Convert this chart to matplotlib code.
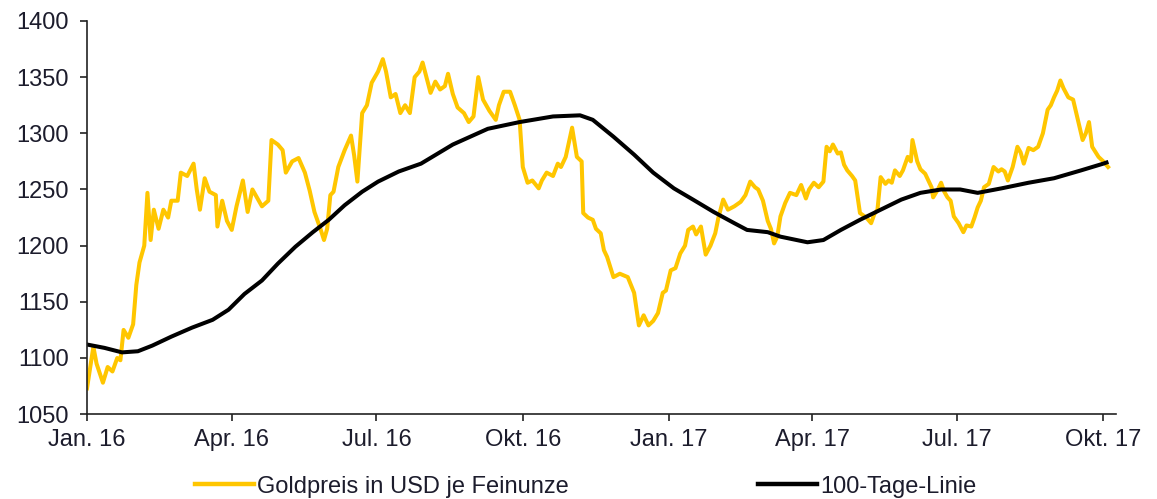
import matplotlib

matplotlib.use("Agg")
import matplotlib.pyplot as plt
import numpy as np

GOLD = "#FFC600"
INK = "#000000"
TXT = "#1c1c2c"

plt.rcParams["font.family"] = ["Liberation Sans", "DejaVu Sans"]

# gold price, USD per troy ounce
gold_dates = [
    "2016-01-01", "2016-01-05", "2016-01-07", "2016-01-11", "2016-01-14", "2016-01-17",
    "2016-01-20", "2016-01-22", "2016-01-24", "2016-01-27", "2016-01-30", "2016-02-01",
    "2016-02-03", "2016-02-06", "2016-02-08", "2016-02-10", "2016-02-12", "2016-02-15",
    "2016-02-18", "2016-02-21", "2016-02-23", "2016-02-27", "2016-02-29", "2016-03-04",
    "2016-03-08", "2016-03-10", "2016-03-12", "2016-03-15", "2016-03-18", "2016-03-22",
    "2016-03-23", "2016-03-26", "2016-03-29", "2016-04-01", "2016-04-04", "2016-04-08",
    "2016-04-11", "2016-04-14", "2016-04-16", "2016-04-20", "2016-04-24", "2016-04-26",
    "2016-04-30", "2016-05-03", "2016-05-05", "2016-05-09", "2016-05-13", "2016-05-17",
    "2016-05-20", "2016-05-23", "2016-05-27", "2016-05-29", "2016-05-31", "2016-06-02",
    "2016-06-04", "2016-06-07", "2016-06-11", "2016-06-15", "2016-06-17", "2016-06-19",
    "2016-06-22", "2016-06-25", "2016-06-28", "2016-07-02", "2016-07-05", "2016-07-07",
    "2016-07-10", "2016-07-13", "2016-07-16", "2016-07-19", "2016-07-22", "2016-07-25",
    "2016-07-28", "2016-07-30", "2016-08-04", "2016-08-07", "2016-08-10", "2016-08-13",
    "2016-08-15", "2016-08-18", "2016-08-21", "2016-08-25", "2016-08-28", "2016-08-31",
    "2016-09-03", "2016-09-06", "2016-09-10", "2016-09-14", "2016-09-16", "2016-09-19",
    "2016-09-23", "2016-09-26", "2016-09-29", "2016-10-01", "2016-10-04", "2016-10-07",
    "2016-10-11", "2016-10-13", "2016-10-16", "2016-10-20", "2016-10-23", "2016-10-25",
    "2016-10-28", "2016-11-01", "2016-11-04", "2016-11-07", "2016-11-08", "2016-11-11",
    "2016-11-14", "2016-11-16", "2016-11-19", "2016-11-21", "2016-11-23", "2016-11-27",
    "2016-12-01", "2016-12-06", "2016-12-10", "2016-12-13", "2016-12-16", "2016-12-19",
    "2016-12-22", "2016-12-25", "2016-12-28", "2016-12-30", "2017-01-02", "2017-01-05",
    "2017-01-08", "2017-01-11", "2017-01-13", "2017-01-16", "2017-01-18", "2017-01-21",
    "2017-01-24", "2017-01-27", "2017-01-30", "2017-02-01", "2017-02-04", "2017-02-07",
    "2017-02-11", "2017-02-15", "2017-02-18", "2017-02-21", "2017-02-24", "2017-02-26",
    "2017-03-01", "2017-03-04", "2017-03-06", "2017-03-08", "2017-03-10", "2017-03-12",
    "2017-03-15", "2017-03-18", "2017-03-22", "2017-03-25", "2017-03-28", "2017-03-30",
    "2017-04-02", "2017-04-05", "2017-04-08", "2017-04-10", "2017-04-12", "2017-04-14",
    "2017-04-17", "2017-04-19", "2017-04-21", "2017-04-23", "2017-04-26", "2017-04-28",
    "2017-05-01", "2017-05-05", "2017-05-08", "2017-05-10", "2017-05-12", "2017-05-14",
    "2017-05-17", "2017-05-19", "2017-05-21", "2017-05-23", "2017-05-26", "2017-05-28",
    "2017-05-31", "2017-06-02", "2017-06-03", "2017-06-06", "2017-06-08", "2017-06-11",
    "2017-06-15", "2017-06-16", "2017-06-19", "2017-06-21", "2017-06-23", "2017-06-25",
    "2017-06-27", "2017-06-29", "2017-07-02", "2017-07-05", "2017-07-07", "2017-07-10",
    "2017-07-12", "2017-07-14", "2017-07-16", "2017-07-18", "2017-07-21", "2017-07-24",
    "2017-07-27", "2017-07-29", "2017-07-31", "2017-08-02", "2017-08-05", "2017-08-08",
    "2017-08-10", "2017-08-12", "2017-08-15", "2017-08-18", "2017-08-21", "2017-08-24",
    "2017-08-27", "2017-08-29", "2017-08-31", "2017-09-02", "2017-09-04", "2017-09-06",
    "2017-09-09", "2017-09-12", "2017-09-15", "2017-09-18", "2017-09-20", "2017-09-22",
    "2017-09-24", "2017-09-28", "2017-10-01", "2017-10-04",
]
gold_price = [
    1073, 1110, 1095, 1078, 1092, 1088,
    1100, 1098, 1125, 1118, 1130, 1165,
    1185, 1200, 1247, 1205, 1232, 1215,
    1232, 1225, 1240, 1240, 1265, 1262,
    1273, 1250, 1232, 1260, 1248, 1245,
    1217, 1240, 1222, 1214, 1235, 1258,
    1230, 1250, 1245, 1235, 1240, 1294,
    1290, 1285, 1265, 1275, 1278, 1265,
    1249, 1230, 1214, 1205, 1215, 1245,
    1248, 1270, 1285, 1298, 1280, 1257,
    1318, 1325, 1345, 1355, 1366, 1355,
    1332, 1335, 1318, 1325, 1318, 1350,
    1355, 1363, 1336, 1346, 1339, 1342,
    1353, 1335, 1323, 1318, 1310, 1315,
    1350, 1330, 1320, 1312, 1325, 1337,
    1337, 1325, 1312, 1270, 1256, 1258,
    1251, 1258, 1265, 1262, 1273, 1270,
    1279, 1305, 1279, 1275, 1229, 1225,
    1223, 1215, 1211, 1196, 1190, 1172,
    1175, 1172, 1158, 1129, 1138, 1129,
    1133, 1140, 1158, 1160, 1178, 1180,
    1193, 1200, 1214, 1217, 1210, 1217,
    1192, 1200, 1211, 1225, 1241, 1232,
    1235, 1239, 1245, 1257, 1252, 1250,
    1240, 1222, 1215, 1202, 1208, 1226,
    1238, 1247, 1245, 1254, 1242, 1250,
    1256, 1252, 1257, 1288, 1284, 1290,
    1282, 1283, 1272, 1267, 1262, 1258,
    1229, 1225, 1220, 1228, 1232, 1261,
    1255, 1258, 1256, 1267, 1262, 1267,
    1279, 1275, 1294, 1275, 1268, 1264,
    1252, 1243, 1250, 1256, 1248, 1243,
    1240, 1226, 1220, 1212, 1218, 1217,
    1225, 1234, 1240, 1252, 1255, 1270,
    1266, 1268, 1266, 1258, 1270, 1288,
    1283, 1273, 1287, 1285, 1288, 1300,
    1321, 1325, 1332, 1338, 1347, 1340,
    1332, 1330, 1312, 1294, 1300, 1310,
    1288, 1279, 1275, 1270,
]

# 100-day moving average
ma_dates = [
    "2016-01-01", "2016-01-12", "2016-01-23", "2016-02-02", "2016-02-11", "2016-02-23",
    "2016-03-07", "2016-03-20", "2016-03-30", "2016-04-09", "2016-04-20", "2016-04-30",
    "2016-05-11", "2016-05-22", "2016-06-01", "2016-06-11", "2016-06-22", "2016-07-02",
    "2016-07-15", "2016-07-29", "2016-08-18", "2016-09-09", "2016-09-29", "2016-10-20",
    "2016-11-06", "2016-11-14", "2016-11-27", "2016-12-10", "2016-12-22", "2017-01-04",
    "2017-01-16", "2017-01-29", "2017-02-11", "2017-02-19", "2017-03-04", "2017-03-12",
    "2017-03-29", "2017-04-08", "2017-04-19", "2017-05-01", "2017-05-14", "2017-05-27",
    "2017-06-08", "2017-06-21", "2017-07-03", "2017-07-14", "2017-07-29", "2017-08-15",
    "2017-08-31", "2017-09-17", "2017-10-01", "2017-10-03",
]
ma_price = [
    1112, 1109, 1105, 1106, 1111, 1119,
    1127, 1134, 1143, 1157, 1169, 1184,
    1199, 1212, 1223, 1236, 1248, 1257,
    1266, 1273, 1290, 1304, 1310, 1315,
    1316, 1312, 1297, 1281, 1265, 1251,
    1241, 1230, 1220, 1214, 1212, 1208,
    1203, 1205, 1214, 1223, 1232, 1241,
    1247, 1250, 1250, 1247, 1251, 1256,
    1260, 1267, 1273, 1274,
]

tick_dates = ["2016-01-01", "2016-04-01", "2016-07-01", "2016-10-01",
              "2017-01-01", "2017-04-01", "2017-07-01", "2017-10-01"]
tick_labels = ["Jan. 16", "Apr. 16", "Jul. 16", "Okt. 16",
               "Jan. 17", "Apr. 17", "Jul. 17", "Okt. 17"]


def main():
    gd = np.array(gold_dates, dtype="datetime64[D]")
    md = np.array(ma_dates, dtype="datetime64[D]")
    td = np.array(tick_dates, dtype="datetime64[D]")

    fig = plt.figure(figsize=(11.57, 4.99), dpi=100)
    ax = fig.add_axes([0.0752, 0.170, 0.8894, 0.788])
    ax.plot(gd, gold_price, color=GOLD, lw=2.9, solid_joinstyle="round",
            label="Goldpreis in USD je Feinunze")
    ax.plot(md, ma_price, color=INK, lw=2.9, solid_joinstyle="round",
            label="100-Tage-Linie")

    ax.set_ylim(1050, 1400)
    ax.set_yticks(np.arange(1050, 1401, 50))
    ax.set_xlim(np.datetime64("2016-01-01"), np.datetime64("2017-10-09"))
    ax.set_xticks(td)
    ax.set_xticklabels(tick_labels)

    for s in ("top", "right"):
        ax.spines[s].set_visible(False)
    for s in ("left", "bottom"):
        ax.spines[s].set_color("#222222")
        ax.spines[s].set_linewidth(1.2)
    ax.tick_params(axis="both", direction="out", length=5, width=1.2,
                   color="#222222", labelsize=17, labelcolor=TXT)
    ax.tick_params(axis="y", pad=8)
    ax.tick_params(axis="x", pad=6)

    leg = fig.legend(loc="center left", bbox_to_anchor=(0.160, 0.025), ncol=2,
                     frameon=False, fontsize=17, handlelength=2.5,
                     handletextpad=0.15, columnspacing=8.0, borderaxespad=0)
    for t in leg.get_texts():
        t.set_color(TXT)
    for h in leg.get_lines():
        h.set_linewidth(3.2)

    fig.savefig("out.png", dpi=100, facecolor="white")
    plt.close(fig)


if __name__ == "__main__":
    main()
